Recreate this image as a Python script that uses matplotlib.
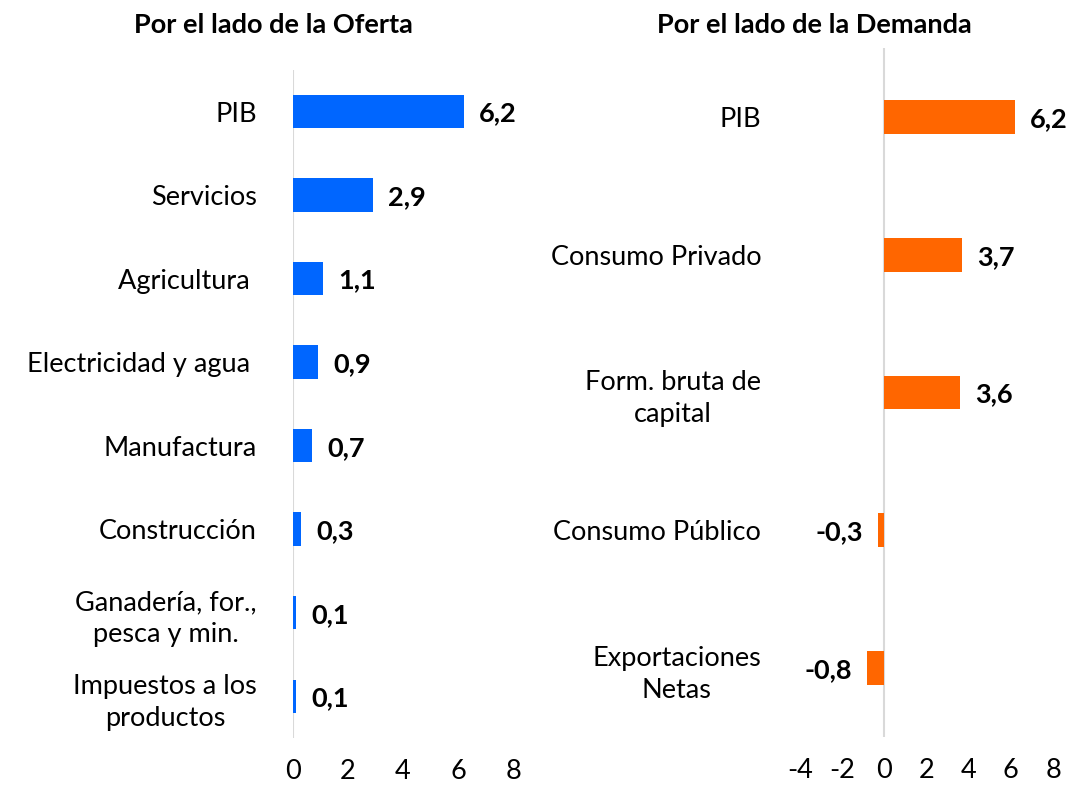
import numpy as np
import matplotlib.pyplot as plt

plt.rcParams['font.family'] = ['Lato', 'DejaVu Sans']

oferta_cats = ['PIB', 'Servicios', 'Agricultura ', 'Electricidad y agua ', 'Manufactura',
               'Construcción', 'Ganadería, for.,\npesca y min.', 'Impuestos a los\nproductos']
oferta_vals = [6.2, 2.9, 1.1, 0.9, 0.7, 0.3, 0.1, 0.1]

demanda_cats = ['PIB', 'Consumo Privado', 'Form. bruta de\ncapital', 'Consumo Público',
                'Exportaciones\nNetas']
demanda_vals = [6.2, 3.7, 3.6, -0.3, -0.8]

blue = '#0066FF'
orange = '#FF6600'
fs = 19.5

fig = plt.figure(figsize=(10.71, 7.87), dpi=100)
ax1 = fig.add_axes([0.2736, 0.0623, 0.2054, 0.849])
ax2 = fig.add_axes([0.747, 0.0635, 0.2362, 0.8755])


def fmt(v):
    return ('%.1f' % v).replace('.', ',')


def draw(ax, cats, vals, color, height, xlim, ticks, pad):
    y = np.arange(len(cats))
    ax.barh(y, vals, height=height, color=color, zorder=3)
    ax.set_ylim(len(cats) - 0.5, -0.5)
    ax.set_xlim(*xlim)
    ax.set_xticks(ticks)
    ax.set_xticklabels([str(t) for t in ticks])
    ax.set_yticks(y)
    ax.set_yticklabels(cats)
    for lab in ax.get_yticklabels():
        lab.set_multialignment('center')
        lab.set_linespacing(1.35)
    for s in ax.spines.values():
        s.set_visible(False)
    ax.axvline(0, color='#D9D9D9', lw=1.5, zorder=2)
    ax.tick_params(axis='both', length=0, labelsize=fs)
    ax.tick_params(axis='y', pad=pad)
    ax.tick_params(axis='x', pad=15)
    for yi, v in zip(y, vals):
        if v >= 0:
            ax.annotate(fmt(v), (v, yi), xytext=(11, 0), textcoords='offset points',
                        ha='left', va='center_baseline', fontsize=fs, fontweight='bold')
        else:
            ax.annotate(fmt(v), (v, yi), xytext=(-11, 0), textcoords='offset points',
                        ha='right', va='center_baseline', fontsize=fs, fontweight='bold')


draw(ax1, oferta_cats, oferta_vals, blue, 0.4, (0, 8), [0, 2, 4, 6, 8], 26)
draw(ax2, demanda_cats, demanda_vals, orange, 0.245, (-4, 8), [-4, -2, 0, 2, 4, 6, 8], 28)

fig.text(0.255, 0.968, 'Por el lado de la Oferta', ha='center', va='center',
         fontsize=fs, fontweight='bold')
fig.text(0.76, 0.968, 'Por el lado de la Demanda', ha='center', va='center',
         fontsize=fs, fontweight='bold')

fig.savefig('out.png', dpi=100)
